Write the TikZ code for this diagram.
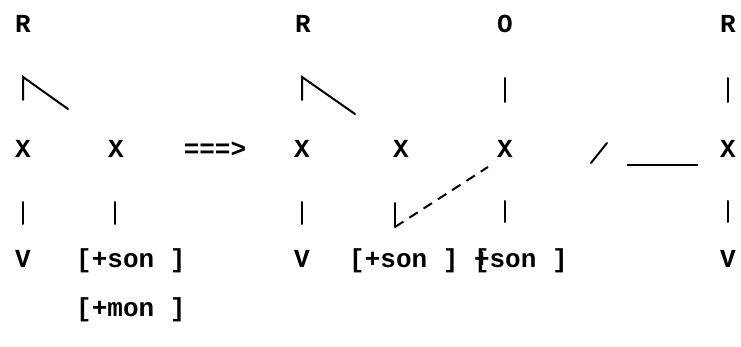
\documentclass[tikz,border=0pt]{standalone}
\usepackage{fontspec}
\newfontfamily\courfont{Liberation Mono}
\begin{document}
\begin{tikzpicture}[x=1pt,y=-1pt,
  lbl/.style={font=\courfont\bfseries\fontsize{26}{30}\selectfont, inner sep=0pt, anchor=base},
  lblw/.style={lbl, anchor=base west},
  branch/.style={line width=2pt, line cap=round},
  assoc/.style={line width=2pt, dash pattern=on 10pt off 7pt}]
\useasboundingbox (0,0) rectangle (741,347);
% left structure
\node[lbl] (r1) at (23,33) {R};
\node[lbl] (x1) at (23,158) {X};
\node[lbl] (x2) at (116,158) {X};
\node[lbl] (v1) at (23,268) {V};
\node[lblw] (son1) at (76,268) {[+son ]};
\node[lblw] (mon1) at (76,316) {[+mon ]};
\node[lbl] (arr) at (215,158) {===>};
% right structure
\node[lbl] (r2) at (303,33) {R};
\node[lbl] (o1) at (505,33) {O};
\node[lbl] (r3) at (728,33) {R};
\node[lbl] (x3) at (302,158) {X};
\node[lbl] (x4) at (401,158) {X};
\node[lbl] (x5) at (505,158) {X};
\node[lbl] (x6) at (728,158) {X};
\node[lbl] (v2) at (302,268) {V};
\node[lblw] (son2) at (349,268) {[+son ] \rlap{[}+son ]};
\node[lbl] (v3) at (728,268) {V};
% branch coordinates
\coordinate (a1) at (23,77);  \coordinate (a2) at (23,100); \coordinate (a3) at (68,109);
\coordinate (b1) at (302,77); \coordinate (b2) at (302,100); \coordinate (b3) at (355,114);
\coordinate (c1) at (505,78); \coordinate (c2) at (505,102);
\coordinate (d1) at (728,78); \coordinate (d2) at (728,102);
\coordinate (e1) at (23,202); \coordinate (e2) at (23,224);
\coordinate (f1) at (115,202); \coordinate (f2) at (115,224);
\coordinate (g1) at (302,202); \coordinate (g2) at (302,224);
\coordinate (h1) at (395,203); \coordinate (h2) at (395,227); \coordinate (h3) at (488,167);
\coordinate (i1) at (505,201); \coordinate (i2) at (505,222);
\coordinate (j1) at (728,201); \coordinate (j2) at (728,222);
\coordinate (s1) at (591,163); \coordinate (s2) at (607,143);
\coordinate (u1) at (627,165); \coordinate (u2) at (698,165);
\draw[branch] (a2) -- (a1) -- (a3);
\draw[branch] (b2) -- (b1) -- (b3);
\draw[branch] (c1) -- (c2);
\draw[branch] (d1) -- (d2);
\draw[branch] (e1) -- (e2);
\draw[branch] (f1) -- (f2);
\draw[branch] (g1) -- (g2);
\draw[branch] (h1) -- (h2);
\draw[assoc] (h2) -- (h3);
\draw[branch] (i1) -- (i2);
\draw[branch] (j1) -- (j2);
\draw[branch] (s1) -- (s2);
\draw[line width=1.6pt] (u1) -- (u2);
\end{tikzpicture}
\end{document}
